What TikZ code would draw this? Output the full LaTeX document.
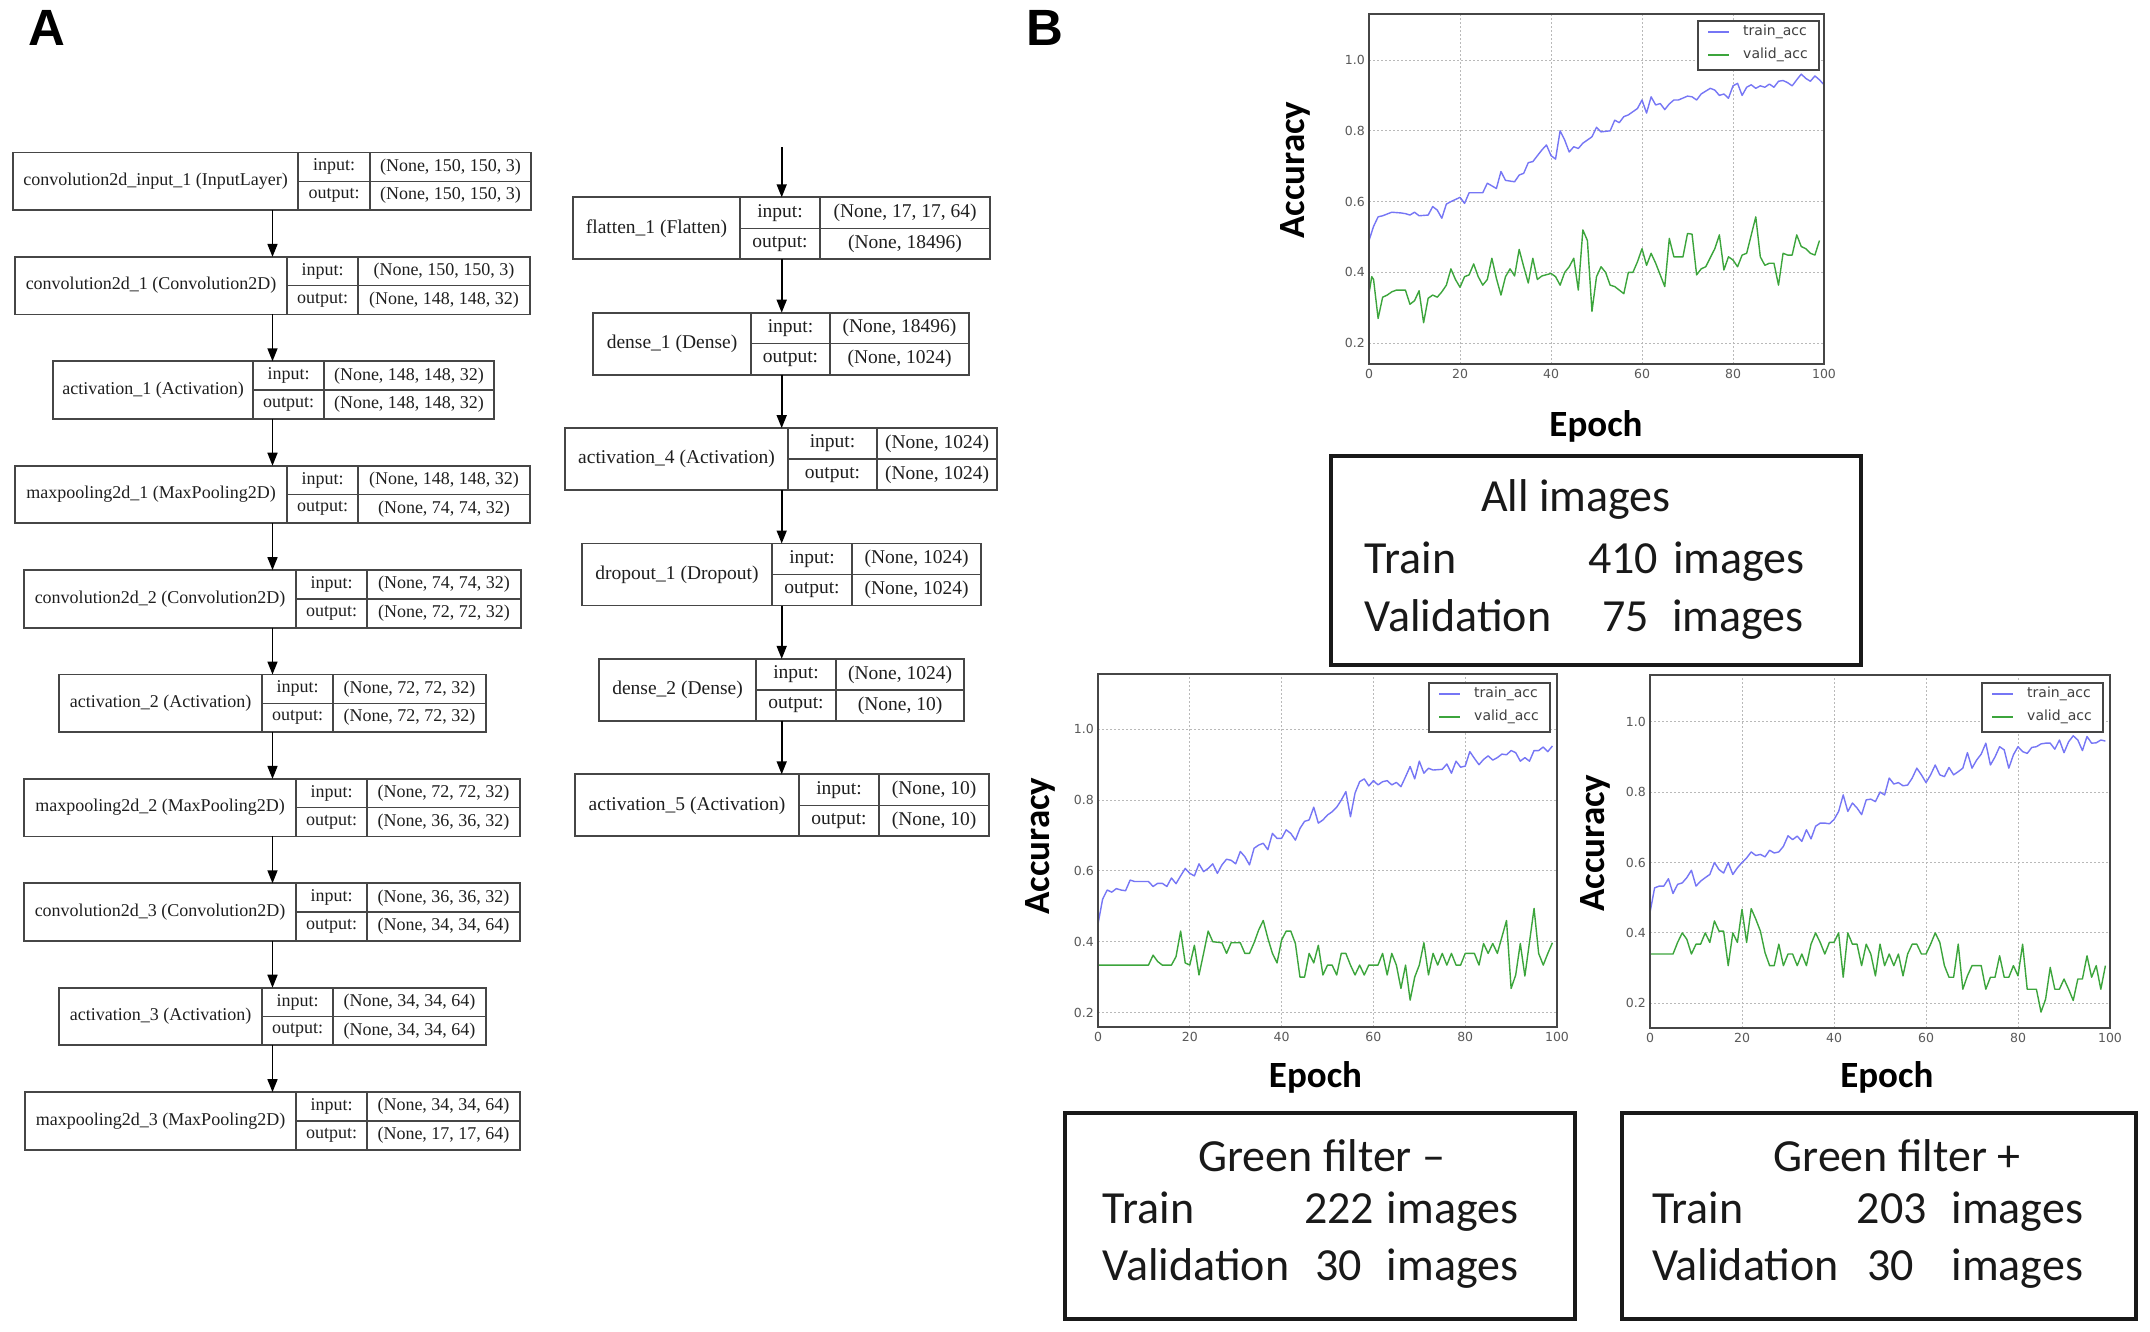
\documentclass[tikz,border=0pt]{standalone}
\usepackage{fontspec}
\setmainfont{Liberation Serif}
\newfontfamily\carlito{Carlito}
\newfontfamily\dejavu{DejaVu Sans}
\newfontfamily\arialf{Liberation Sans}
\usetikzlibrary{arrows.meta,calc}

\definecolor{trainblue}{RGB}{118,118,245}
\definecolor{validgreen}{RGB}{60,165,60}
\definecolor{framegray}{RGB}{70,70,70}
\definecolor{gridgray}{RGB}{185,185,185}
\definecolor{boxgray}{RGB}{70,70,70}

\tikzset{
  layerframe/.style={draw=boxgray, line width=1.8pt, inner sep=0pt, outer sep=0pt, rectangle},
  layerline/.style={draw=boxgray, line width=1.5pt},
  arr/.style={-{Triangle[length=13pt,width=10pt]}, line width=1.6pt, black},
  gridline/.style={draw=gridgray, line width=1pt, dash pattern=on 2pt off 2pt},
  plotframe/.style={draw=framegray, line width=2pt},
  ticklbl/.style={font=\dejavu\fontsize{12.5}{14}\selectfont, text=black!65, inner sep=0pt},
  trainline/.style={draw=trainblue, line width=1.4pt, line join=round},
  validline/.style={draw=validgreen, line width=1.4pt, line join=round},
  legframe/.style={draw=framegray, line width=1.5pt, fill=white, inner sep=0pt, rectangle},
  legtext/.style={font=\dejavu\fontsize{14}{16}\selectfont, text=black!75, inner sep=0pt},
  axlabel/.style={font=\carlito\bfseries\fontsize{37}{40}\selectfont, inner sep=0pt},
  infobox/.style={draw=black!90, line width=4pt, inner sep=0pt, rectangle},
  infotext/.style={font=\carlito\fontsize{46}{50}\selectfont, inner sep=0pt, text=black!90},
  panellbl/.style={font=\arialf\bfseries\fontsize{51}{55}\selectfont, inner sep=0pt},
}

% #1 id, #2 left, #3 div1, #4 div2, #5 right, #6 top, #7 name, #8 in, #9 out
\newcommand\layerbox[9]{%
  \node[layerframe, minimum width={(#5-#2)*1pt}, minimum height={\lh pt}, anchor=north west] (#1) at (#2,#6) {};
  \draw[layerline] (#3,#6) -- (#3,{#6+\lh});
  \draw[layerline] (#4,#6) -- (#4,{#6+\lh});
  \draw[layerline] (#3,{#6+\lh/2}) -- (#5,{#6+\lh/2});
  \node[layertext] (#1-name) at ({(#2+#3)/2},{#6+\lh/2}) {#7};
  \node[layertext] (#1-inl) at ({(#3+#4)/2},{#6+\lh/4}) {input:};
  \node[layertext] (#1-outl) at ({(#3+#4)/2},{#6+3*\lh/4}) {output:};
  \node[layertext] (#1-inv) at ({(#4+#5)/2},{#6+\lh/4}) {#8};
  \node[layertext] (#1-outv) at ({(#4+#5)/2},{#6+3*\lh/4}) {#9};
}

% #1 ymin, #2 ymax, #3 prefix
\newcommand\chartframe[3]{%
  \foreach \v in {0.2,0.4,0.6,0.8,1.0} \draw[gridline] (0,\v) -- (100,\v);
  \foreach \e in {20,40,60,80} \draw[gridline] (\e,#1) -- (\e,#2);
  \foreach \v [count=\i] in {0.2,0.4,0.6,0.8,1.0} \node[ticklbl, anchor=east, xshift=-4pt] (#3y\i) at (0,\v) {\v};
  \foreach \e [count=\i] in {0,20,40,60,80,100} \node[ticklbl, anchor=north, yshift=-5pt] (#3x\i) at (\e,#1) {\e};
}

% #1 prefix, #2 left, #3 top
\newcommand\legendbox[3]{%
  \node[legframe, minimum width=121pt, minimum height=49pt, anchor=north west] (#1leg) at (#2,#3) {};
  \coordinate (#1la) at ({#2+11},{#3+12});
  \coordinate (#1lb) at ({#2+32},{#3+12});
  \coordinate (#1lc) at ({#2+11},{#3+35});
  \coordinate (#1ld) at ({#2+32},{#3+35});
  \draw[trainline] (#1la) -- (#1lb);
  \draw[validline] (#1lc) -- (#1ld);
  \node[legtext, anchor=west] (#1lt) at ({#2+46},{#3+12}) {train\_acc};
  \node[legtext, anchor=west] (#1lv) at ({#2+46},{#3+35}) {valid\_acc};
}

\begin{document}
\begin{tikzpicture}[x=1pt,y=-1pt]
\fill[white] (0,0) rectangle (2150,1331);
\path[use as bounding box] (0,0) rectangle (2150,1331);

% panel labels
\node[panellbl] (labA) at (47,28) {A};
\node[panellbl] (labB) at (1045,28) {B};

% ---------------- left column ----------------
\def\lh{57.5}
\tikzset{layertext/.style={font=\fontsize{18}{20}\selectfont, text=black!88, inner sep=0pt}}
\layerbox{L0}{13}{298}{370}{531}{152.5}{convolution2d\_input\_1 (InputLayer)}{(None, 150, 150, 3)}{(None, 150, 150, 3)}
\layerbox{L1}{15}{287}{358}{530}{256.9}{convolution2d\_1 (Convolution2D)}{(None, 150, 150, 3)}{(None, 148, 148, 32)}
\layerbox{L2}{53}{253}{324}{494}{361.3}{activation\_1 (Activation)}{(None, 148, 148, 32)}{(None, 148, 148, 32)}
\layerbox{L3}{15}{287}{358}{530}{465.7}{maxpooling2d\_1 (MaxPooling2D)}{(None, 148, 148, 32)}{(None, 74, 74, 32)}
\layerbox{L4}{24}{296}{367}{521}{570.1}{convolution2d\_2 (Convolution2D)}{(None, 74, 74, 32)}{(None, 72, 72, 32)}
\layerbox{L5}{59}{262}{333}{486}{674.5}{activation\_2 (Activation)}{(None, 72, 72, 32)}{(None, 72, 72, 32)}
\layerbox{L6}{24}{296}{367}{520}{778.9}{maxpooling2d\_2 (MaxPooling2D)}{(None, 72, 72, 32)}{(None, 36, 36, 32)}
\layerbox{L7}{24}{296}{367}{520}{883.3}{convolution2d\_3 (Convolution2D)}{(None, 36, 36, 32)}{(None, 34, 34, 64)}
\layerbox{L8}{59}{262}{333}{486}{987.7}{activation\_3 (Activation)}{(None, 34, 34, 64)}{(None, 34, 34, 64)}
\layerbox{L9}{25}{296}{367}{520}{1092.1}{maxpooling2d\_3 (MaxPooling2D)}{(None, 34, 34, 64)}{(None, 17, 17, 64)}

\coordinate (axL) at (272.5,0);
\foreach \a/\b in {L0/L1,L1/L2,L2/L3,L3/L4,L4/L5,L5/L6,L6/L7,L7/L8,L8/L9}
  \draw[arr] (\a.south -| axL) -- (\b.north -| axL);

% ---------------- right column ----------------
\def\lh{62}
\tikzset{layertext/.style={font=\fontsize{19.5}{22}\selectfont, text=black!88, inner sep=0pt}}
\layerbox{R0}{573}{740}{820}{990}{197.3}{flatten\_1 (Flatten)}{(None, 17, 17, 64)}{(None, 18496)}
\layerbox{R1}{593}{751}{830}{969}{312.7}{dense\_1 (Dense)}{(None, 18496)}{(None, 1024)}
\layerbox{R2}{565}{788}{877}{997}{428.1}{activation\_4 (Activation)}{(None, 1024)}{(None, 1024)}
\layerbox{R3}{582}{772}{852}{981}{543.5}{dropout\_1 (Dropout)}{(None, 1024)}{(None, 1024)}
\layerbox{R4}{599}{756}{836}{964}{658.9}{dense\_2 (Dense)}{(None, 1024)}{(None, 10)}
\layerbox{R5}{575}{799}{879}{989}{774.3}{activation\_5 (Activation)}{(None, 10)}{(None, 10)}

\coordinate (axR) at (781.7,0);
\coordinate (rin) at (781.7,147);
\draw[arr] (rin) -- (R0.north -| axR);
\foreach \a/\b in {R0/R1,R1/R2,R2/R3,R3/R4,R4/R5}
  \draw[arr] (\a.south -| axR) -- (\b.north -| axR);

% ---------------- chart: all images ----------------
\begin{scope}[shift={(1369,414)}, x=4.55pt, y=354pt]
\chartframe{0.141}{1.13}{ca}
\draw[trainline] plot coordinates {(0,.49)(1,.53)(2,.557)(3,.56)(5,.57)(7,.568)(8,.566)(9,.562)(10,.57)(11,.56)(13,.562)(14,.586)(15,.576)(16,.553)(17,.593)(18,.60)(20,.612)(21,.595)(22,.625)(25,.625)(26,.652)(28,.637)(29,.685)(30,.66)(32,.656)(33,.675)(34,.68)(35,.71)(36,.713)(38,.746)(39,.76)(40,.73)(41,.72)(42,.80)(43,.774)(44,.74)(45,.755)(46,.75)(47,.765)(49,.783)(50,.81)(51,.797)(53,.80)(54,.83)(55,.823)(56,.84)(57,.845)(58,.854)(59,.863)(60,.887)(61,.85)(62,.896)(63,.873)(64,.877)(65,.86)(66,.876)(67,.887)(68,.887)(70,.898)(71,.896)(72,.887)(73,.904)(75,.92)(76,.915)(77,.90)(78,.904)(79,.892)(80,.927)(81,.934)(82,.90)(83,.923)(84,.93)(85,.92)(86,.927)(87,.923)(88,.932)(89,.923)(90,.94)(91,.942)(92,.936)(93,.927)(94,.944)(95,.96)(96,.948)(97,.94)(98,.955)(99,.944)(100,.93)};
\draw[validline] plot coordinates {(0,.34)(0.6,.388)(1,.38)(2,.27)(3,.33)(4,.336)(5,.345)(6,.35)(8,.35)(9,.31)(10,.32)(11,.348)(12,.258)(13,.327)(14,.336)(15,.33)(16,.345)(17,.364)(18,.41)(19,.38)(20,.358)(21,.388)(22,.393)(23,.424)(24,.388)(25,.364)(26,.38)(27,.44)(28,.383)(29,.336)(30,.388)(31,.41)(32,.39)(33,.465)(34,.416)(35,.37)(36,.44)(37,.38)(38,.39)(40,.397)(41,.388)(42,.364)(43,.40)(44,.416)(45,.44)(46,.35)(47,.52)(48,.49)(49,.29)(50,.388)(51,.416)(52,.40)(53,.364)(54,.36)(56,.34)(57,.40)(58,.40)(59,.43)(60,.467)(61,.42)(62,.454)(63,.426)(65,.36)(66,.496)(67,.444)(68,.444)(69,.444)(70,.51)(71,.508)(72,.393)(73,.41)(74,.416)(76,.467)(77,.506)(78,.407)(79,.444)(80,.435)(81,.416)(82,.449)(83,.454)(85,.557)(86,.444)(87,.42)(88,.426)(89,.426)(90,.364)(91,.454)(92,.449)(93,.449)(94,.506)(95,.473)(96,.467)(97,.454)(98,.449)(99,.49)};
\draw[plotframe] (0,0.141) rectangle (100,1.13);
\end{scope}
\legendbox{ta}{1697}{20}
\node[axlabel, rotate=90, anchor=base] (accA) at (1304,170) {Accuracy};
\node[axlabel, anchor=base] (epA) at (1596,436) {Epoch};

% ---------------- chart: green filter - ----------------
\begin{scope}[shift={(1098,1083.3)}, x=4.59pt, y=354pt]
\chartframe{0.16}{1.156}{cb}
\draw[trainline] plot coordinates {(0,.45)(1,.52)(2,.546)(3,.54)(4,.55)(5,.546)(6,.544)(7,.574)(8,.57)(10,.57)(11,.57)(12,.556)(13,.565)(14,.565)(15,.556)(16,.58)(17,.564)(18,.586)(19,.607)(20,.593)(21,.586)(22,.62)(23,.598)(24,.607)(25,.62)(26,.593)(27,.617)(28,.633)(29,.63)(30,.62)(31,.655)(32,.64)(33,.617)(34,.664)(35,.673)(36,.678)(37,.66)(38,.706)(39,.692)(40,.692)(41,.716)(42,.706)(43,.687)(44,.72)(45,.74)(46,.744)(47,.78)(48,.735)(49,.744)(50,.758)(51,.767)(52,.78)(53,.80)(54,.824)(55,.753)(56,.82)(57,.852)(58,.86)(59,.84)(60,.855)(61,.843)(62,.852)(63,.855)(64,.843)(65,.85)(66,.838)(67,.866)(68,.895)(69,.86)(70,.91)(71,.876)(72,.89)(73,.885)(75,.887)(76,.902)(77,.876)(78,.91)(79,.893)(80,.896)(81,.937)(82,.918)(83,.90)(84,.915)(85,.925)(86,.913)(87,.92)(88,.93)(89,.928)(90,.94)(91,.934)(92,.91)(93,.92)(94,.91)(95,.94)(96,.94)(97,.95)(98,.937)(99,.953)};
\draw[validline] plot coordinates {(0,.334)(11,.334)(12,.362)(13,.344)(14,.334)(16,.334)(17,.358)(18,.43)(19,.34)(20,.334)(21,.39)(22,.306)(23,.367)(24,.43)(25,.40)(27,.397)(28,.367)(29,.397)(31,.397)(32,.367)(33,.367)(34,.397)(35,.433)(36,.46)(37,.41)(38,.367)(39,.34)(40,.405)(41,.43)(42,.43)(43,.395)(44,.30)(45,.30)(46,.367)(47,.34)(48,.39)(49,.306)(50,.334)(51,.334)(52,.306)(53,.367)(54,.367)(55,.334)(56,.306)(57,.334)(58,.306)(59,.334)(61,.334)(62,.367)(63,.306)(64,.367)(65,.334)(66,.268)(67,.334)(68,.235)(69,.30)(70,.334)(71,.397)(72,.306)(73,.367)(74,.334)(75,.367)(76,.334)(77,.367)(78,.334)(79,.334)(80,.367)(82,.367)(83,.334)(84,.395)(85,.367)(86,.395)(87,.367)(89,.46)(90,.268)(91,.306)(92,.395)(93,.303)(95,.494)(96,.367)(97,.334)(98,.367)(99,.397)};
\draw[plotframe] (0,0.16) rectangle (100,1.156);
\end{scope}
\legendbox{tb}{1428}{682}
\node[axlabel, rotate=90, anchor=base] (accB) at (1049,846) {Accuracy};
\node[axlabel, anchor=base] (epB) at (1315.5,1087) {Epoch};

% ---------------- chart: green filter + ----------------
\begin{scope}[shift={(1650,1073.7)}, x=4.6pt, y=352pt]
\chartframe{0.131}{1.133}{cc}
\draw[trainline] plot coordinates {(0,.458)(1,.528)(2,.533)(3,.533)(4,.554)(5,.512)(6,.538)(7,.542)(8,.557)(9,.578)(10,.533)(11,.547)(12,.557)(13,.566)(14,.60)(15,.58)(16,.57)(17,.60)(18,.566)(19,.585)(20,.60)(21,.613)(22,.63)(23,.62)(24,.623)(25,.616)(26,.635)(27,.627)(28,.63)(29,.646)(30,.676)(31,.665)(32,.675)(33,.66)(34,.693)(35,.667)(36,.703)(37,.712)(38,.712)(39,.71)(40,.722)(41,.745)(42,.792)(43,.745)(44,.769)(45,.755)(46,.736)(47,.778)(48,.78)(49,.773)(50,.80)(51,.792)(52,.84)(53,.823)(54,.827)(55,.818)(56,.82)(57,.84)(58,.868)(59,.849)(60,.827)(61,.849)(62,.877)(63,.849)(64,.844)(65,.87)(66,.849)(67,.858)(68,.868)(69,.912)(70,.868)(71,.891)(72,.908)(73,.939)(74,.877)(75,.90)(76,.929)(77,.92)(78,.868)(79,.906)(80,.929)(81,.915)(82,.91)(83,.927)(84,.929)(85,.937)(86,.939)(87,.939)(88,.922)(89,.948)(90,.912)(91,.943)(92,.96)(93,.948)(94,.918)(95,.958)(96,.939)(97,.94)(98,.948)(99,.945)};
\draw[validline] plot coordinates {(0,.34)(5,.34)(6,.373)(7,.40)(8,.382)(9,.34)(10,.368)(11,.368)(12,.40)(13,.373)(14,.434)(15,.405)(16,.405)(17,.307)(18,.40)(19,.373)(20,.467)(21,.373)(22,.469)(23,.439)(24,.405)(25,.344)(26,.307)(27,.307)(28,.368)(29,.307)(30,.34)(31,.34)(32,.307)(33,.34)(34,.307)(35,.368)(36,.40)(37,.373)(38,.34)(39,.373)(40,.373)(41,.40)(42,.274)(43,.40)(44,.368)(45,.368)(46,.307)(47,.368)(48,.34)(49,.278)(50,.368)(51,.307)(52,.34)(53,.307)(54,.34)(55,.278)(56,.34)(57,.368)(58,.368)(59,.34)(60,.34)(61,.368)(62,.40)(63,.373)(64,.307)(65,.274)(66,.274)(67,.368)(68,.24)(69,.278)(70,.307)(72,.307)(73,.24)(74,.274)(75,.274)(76,.335)(77,.274)(78,.274)(79,.307)(80,.278)(81,.368)(82,.24)(84,.24)(85,.175)(86,.212)(87,.302)(88,.24)(89,.24)(90,.269)(91,.24)(92,.208)(93,.269)(94,.269)(95,.335)(96,.274)(97,.307)(98,.24)(99,.307)};
\draw[plotframe] (0,0.131) rectangle (100,1.133);
\end{scope}
\legendbox{tc}{1981}{682}
\node[axlabel, rotate=90, anchor=base] (accC) at (1604,843) {Accuracy};
\node[axlabel, anchor=base] (epC) at (1886.8,1087) {Epoch};

% ---------------- info boxes ----------------
\node[infobox, minimum width=530pt, minimum height=209pt, anchor=north west] (boxAll) at (1329,454) {};
\node[infotext, anchor=base] (allT) at (1576,511.7) {All images};
\node[infotext, anchor=base west] (allTr) at (1364.6,573.3) {Train};
\node[infotext, anchor=base west] (allTrN) at (1588,573.3) {410};
\node[infotext, anchor=base west] (allTrI) at (1673,573.3) {images};
\node[infotext, anchor=base west] (allVa) at (1364.6,631.7) {Validation};
\node[infotext, anchor=base west] (allVaN) at (1602,631.7) {75};
\node[infotext, anchor=base west] (allVaI) at (1672,631.7) {images};

\node[infobox, minimum width=510pt, minimum height=206pt, anchor=north west] (boxGm) at (1063,1111) {};
\node[infotext, anchor=base] (gmT) at (1321.8,1171.7) {Green filter \textendash};
\node[infotext, anchor=base west] (gmTr) at (1102.6,1223.5) {Train};
\node[infotext, anchor=base west] (gmTrN) at (1304,1223.5) {222};
\node[infotext, anchor=base west] (gmTrI) at (1386.7,1223.5) {images};
\node[infotext, anchor=base west] (gmVa) at (1102.6,1280) {Validation};
\node[infotext, anchor=base west] (gmVaN) at (1315,1280) {30};
\node[infotext, anchor=base west] (gmVaI) at (1386.7,1280) {images};

\node[infobox, minimum width=514pt, minimum height=206pt, anchor=north west] (boxGp) at (1620,1111) {};
\node[infotext, anchor=base] (gpT) at (1897,1171.7) {Green filter +};
\node[infotext, anchor=base west] (gpTr) at (1652,1223.5) {Train};
\node[infotext, anchor=base west] (gpTrN) at (1856.7,1223.5) {203};
\node[infotext, anchor=base west] (gpTrI) at (1951.4,1223.5) {images};
\node[infotext, anchor=base west] (gpVa) at (1652,1280) {Validation};
\node[infotext, anchor=base west] (gpVaN) at (1867,1280) {30};
\node[infotext, anchor=base west] (gpVaI) at (1951.4,1280) {images};
\end{tikzpicture}
\end{document}
